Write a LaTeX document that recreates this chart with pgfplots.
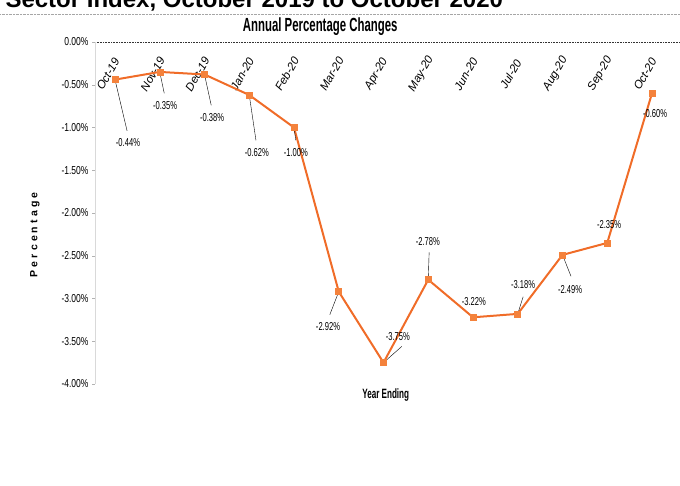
\documentclass[border=0pt]{standalone}
\usepackage{fontspec}
\setmainfont{Liberation Sans}
\newfontfamily\tickfont[FakeStretch=0.74]{Liberation Sans}
\newfontfamily\labfont[FakeStretch=0.66]{Liberation Sans}
\newfontfamily\headfont[FakeStretch=0.6]{Liberation Sans}
\newfontfamily\spacedfont[LetterSpace=30]{Liberation Sans}
\usepackage{pgfplots}
\pgfplotsset{compat=1.18}

\definecolor{lineor}{RGB}{240,108,40}
\definecolor{markor}{RGB}{244,130,60}

% annual percentage changes, Oct-19 .. Oct-20 at x = 0..12
\pgfplotstableread{
x y
0 -0.44
1 -0.35
2 -0.38
3 -0.62
4 -1.00
5 -2.92
6 -3.75
7 -2.78
8 -3.22
9 -3.18
10 -2.49
11 -2.35
12 -0.60
}\maindata

% u,v: leader line; lx,ly: label centre
\pgfplotstableread{
x y u v lx ly lab
0 -0.44 0.27 -0.60 0.29 -1.18 -0.44
1 -0.35 0.10 -0.25 1.12 -0.74 -0.35
2 -0.38 0.15 -0.36 2.17 -0.88 -0.38
3 -0.62 0.15 -0.53 3.17 -1.29 -0.62
4 -1.00 0.04 -0.15 4.04 -1.29 -1.00
5 -2.92 -0.20 -0.27 4.76 -3.33 -2.92
6 -3.75 0.41 0.19 6.32 -3.45 -3.75
7 -2.78 0.02 0.32 6.99 -2.33 -2.78
8 -3.22 0 0 8.02 -3.04 -3.22
9 -3.18 0.12 0.20 9.12 -2.84 -3.18
10 -2.49 0.19 -0.25 10.17 -2.90 -2.49
11 -2.35 0 0 11.04 -2.13 -2.35
12 -0.60 0 0 12.07 -0.84 -0.60
}\labdata

\begin{document}
\begin{tikzpicture}
\path[use as bounding box] (0,0) rectangle (680pt,486pt);
\begin{axis}[
    at={(95pt,102pt)}, anchor=south west,
    scale only axis, width=585pt, height=342pt,
    xmin=-0.447, xmax=12.626,
    ymin=-4, ymax=0,
    clip=false,
    axis x line=top, axis y line=left,
    x axis line style={-, black!80, line width=0.5pt, dash pattern=on 1pt off 0.6pt},
    y axis line style={-, gray!30},
    xtick={0,...,12},
    xticklabels={Oct-19,Nov-19,Dec-19,Jan-20,Feb-20,Mar-20,Apr-20,May-20,Jun-20,Jul-20,Aug-20,Sep-20,Oct-20},
    xtick style={draw=none},
    xticklabel style={font=\fontsize{11.5}{12}\selectfont\itshape, anchor=center, xshift=-7pt, yshift=-35pt, rotate=60},
    ytick={-4,-3.5,...,0},
    yticklabels={-4.00\%,-3.50\%,-3.00\%,-2.50\%,-2.00\%,-1.50\%,-1.00\%,-0.50\%,0.00\%},
    ytick style={gray!60},
    tick align=outside,
    major tick length=3pt,
    yticklabel style={font=\tickfont\fontsize{11.5}{12}\selectfont},
    title={Annual Percentage Changes},
    every axis title/.style={at={(axis description cs:0.385,1.044)}, anchor=center,
        font=\headfont\bfseries\fontsize{19}{20}\selectfont},
    xlabel={Year Ending},
    every axis x label/.style={at={(axis description cs:0.497,-0.032)}, anchor=center,
        font=\headfont\bfseries\fontsize{13.5}{14}\selectfont},
    ylabel={Percentage},
    every axis y label/.style={at={(axis description cs:-0.1026,0.436)}, anchor=center, rotate=90,
        font=\spacedfont\bfseries\fontsize{10.5}{11}\selectfont},
]
\addplot[lineor, line width=2pt, mark=square*, mark size=3pt,
    mark options={fill=markor, draw=markor, line width=0.5pt}] table[x=x, y=y] {\maindata};
\addplot[black, thin, no markers, quiver={u=\thisrow{u}, v=\thisrow{v}}]
    table[x=x, y=y] {\labdata};
\addplot[only marks, mark=none, point meta=explicit symbolic,
    nodes near coords={\pgfplotspointmeta\%},
    every node near coord/.append style={anchor=center, inner sep=0pt,
        font=\labfont\fontsize{11.5}{12}\selectfont}]
    table[x=lx, y=ly, meta=lab] {\labdata};
\draw[gray!70, densely dotted] (axis description cs:-0.162,1.082) -- (axis description cs:1,1.082);
\node[anchor=base west, font=\bfseries\fontsize{24}{24}\selectfont]
    at (axis description cs:-0.159,1.0994) {Sector Index, October 2019 to October 2020};
\end{axis}
\end{tikzpicture}
\end{document}
